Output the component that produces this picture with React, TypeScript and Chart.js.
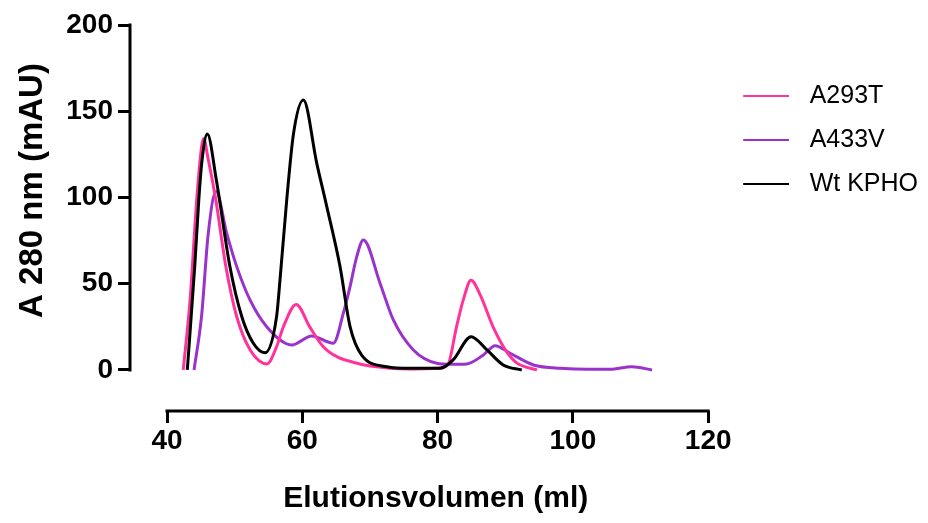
import React, { useEffect, useRef } from 'react';
import { Chart, registerables } from 'chart.js';

Chart.register(...registerables);

// ---- data ----
const seriesNames = ['A293T', 'A433V', 'Wt KPHO'];
const seriesColors = ['#FF3399', '#9933CC', '#000000'];
const seriesOrder = [1, 2, 0];

const a293tX = [42.4, 43.4, 44.4, 45.1, 45.4, 46.1, 47.2, 48.7, 50.3, 52.3, 54.8, 56.2, 57.2, 59.1, 61.1, 63.1, 65.1, 67.5, 70.0, 75.9, 80.0, 81.5, 82.8, 83.8, 84.95, 86.3, 88.2, 90.2, 91.7, 94.7];
const a293tY = [0, 40, 99, 129, 134, 122, 99, 60, 31, 11.6, 3.5, 13.5, 25, 38, 25, 13.5, 7.7, 4.5, 2.3, 0.6, 1.0, 2.9, 25, 40.6, 52, 43.5, 25, 10.6, 4.1, 0];

const a433vX = [44.0, 45.1, 46.1, 47.25, 48.83, 50.31, 52.27, 54.74, 58.44, 61.4, 64.59, 66.07, 67.06, 68.05, 69.03, 71.49, 73.46, 76.42, 79.88, 82.0, 84.32, 86.77, 88.5, 90.72, 94.17, 98.11, 105.5, 108.7, 111.7];
const a433vY = [0, 30.9, 79.2, 103.4, 79.2, 59.9, 40.6, 25.1, 14.5, 19.7, 15.5, 32.9, 48.3, 65.7, 75.4, 50.3, 29, 11.6, 3.9, 3.3, 3.5, 8.7, 14.1, 9.7, 2.9, 1, 0.4, 1.9, 0];

const wtX = [43.0, 44.1, 44.7, 45.13, 45.96, 47.3, 49.3, 51.05, 52.76, 54.5, 56.2, 56.7, 57.7, 58.7, 60.16, 62.14, 63.62, 65.58, 67.06, 68.8, 72.5, 75.9, 80.4, 82.3, 84.95, 87.3, 89.7, 92.45];
const wtY = [0, 60, 98.6, 119.8, 136.8, 110, 60, 31, 15.5, 10, 31, 52, 98.6, 137, 156.5, 119.8, 94.7, 59.9, 25.1, 8.5, 1.9, 1, 1, 5.8, 19.3, 11.6, 2.9, 0];

const seriesX = [a293tX, a433vX, wtX];
const seriesY = [a293tY, a433vY, wtY];

const xTicks = [40, 60, 80, 100, 120];
const yTicks = [0, 50, 100, 150, 200];

const xTitle = '    Elutionsvolumen (ml)';
const yTitle = '      A 280 nm (mAU)';

const FONT = '"Liberation Sans", Arial, sans-serif';

export default function App() {
  const ref = useRef<HTMLCanvasElement>(null);

  useEffect(() => {
    document.body.style.margin = '0';
    const canvas = ref.current;
    if (!canvas) return;

    const makeLegendLine = (color: string) => {
      const c = document.createElement('canvas');
      c.width = 54;
      c.height = 4;
      const g = c.getContext('2d')!;
      g.strokeStyle = color;
      g.lineWidth = 2;
      g.beginPath();
      g.moveTo(8, 2);
      g.lineTo(54, 2);
      g.stroke();
      return c;
    };
    const legendImages = seriesColors.map(makeLegendLine);

    const datasets = seriesNames.map((name, i) => ({
      label: name,
      data: seriesX[i].map((x, j) => ({ x, y: seriesY[i][j] })),
      borderColor: seriesColors[i],
      backgroundColor: seriesColors[i],
      borderWidth: 3,
      pointRadius: 0,
      cubicInterpolationMode: 'monotone' as const,
      fill: false,
      order: seriesOrder[i],
    }));

    const axisLines = {
      id: 'axisLines',
      beforeDatasetsDraw(chart: any) {
        const { ctx, chartArea, scales } = chart;
        const xs = scales.x;
        const ys = scales.y;
        ctx.save();
        ctx.strokeStyle = '#000';
        ctx.lineWidth = 3;
        ctx.lineCap = 'square';
        ctx.beginPath();
        ctx.moveTo(xs.getPixelForValue(xTicks[0]), chartArea.bottom);
        ctx.lineTo(xs.getPixelForValue(xTicks[xTicks.length - 1]), chartArea.bottom);
        ctx.moveTo(chartArea.left, ys.getPixelForValue(yTicks[0]));
        ctx.lineTo(chartArea.left, ys.getPixelForValue(yTicks[yTicks.length - 1]));
        ctx.stroke();
        ctx.restore();
      },
    };

    const chart = new Chart(canvas, {
      type: 'line',
      data: { datasets },
      plugins: [axisLines],
      options: {
        animation: false,
        responsive: false,
        events: [],
        layout: { padding: { top: 25, left: 0, right: 0, bottom: 0 } },
        scales: {
          x: {
            type: 'linear',
            min: 34.53,
            max: 120,
            afterBuildTicks: (s: any) => {
              s.ticks = xTicks.map((v) => ({ value: v }));
            },
            afterFit: (s: any) => {
              s.height = 112;
            },
            border: { display: false },
            grid: { drawOnChartArea: false, drawTicks: true, tickLength: 12, lineWidth: 3, color: '#000' },
            ticks: { color: '#000', font: { family: FONT, size: 28, weight: 'bold' }, padding: 1, maxRotation: 0, autoSkip: false },
            title: { display: true, text: xTitle, color: '#000', font: { family: FONT, size: 30, weight: 'bold' }, padding: { top: 0, bottom: 6 } },
          },
          y: {
            type: 'linear',
            min: -23.8,
            max: 200,
            afterBuildTicks: (s: any) => {
              s.ticks = yTicks.map((v) => ({ value: v }));
            },
            afterFit: (s: any) => {
              s.width = 130;
            },
            border: { display: false },
            grid: { drawOnChartArea: false, drawTicks: true, tickLength: 12, lineWidth: 3, color: '#000' },
            ticks: { color: '#000', font: { family: FONT, size: 28, weight: 'bold' }, padding: 5, autoSkip: false },
            title: { display: true, text: yTitle, color: '#000', font: { family: FONT, size: 33, weight: 'bold' }, padding: { top: 13, bottom: 0 } },
          },
        },
        plugins: {
          tooltip: { enabled: false },
          legend: {
            position: 'right',
            align: 'start',
            maxWidth: 220,
            title: { display: true, text: ' ', font: { size: 10 }, padding: { top: 27.5, bottom: 0 } },
            labels: {
              usePointStyle: true,
              pointStyleWidth: 70,
              padding: 19,
              color: '#000',
              font: { family: FONT, size: 25 },
              generateLabels: (ch: any) =>
                ch.data.datasets.map((ds: any, i: number) => ({
                  text: ds.label,
                  fillStyle: seriesColors[i],
                  strokeStyle: seriesColors[i],
                  fontColor: '#000',
                  lineWidth: 2,
                  pointStyle: legendImages[i],
                  hidden: false,
                  datasetIndex: i,
                })),
            },
          },
        },
      } as any,
    });

    return () => {
      chart.destroy();
    };
  }, []);

  return (
    <div style={{ width: 928, height: 523, position: 'relative', background: '#fff' }}>
      <canvas ref={ref} width={928} height={523} style={{ display: 'block' }} />
    </div>
  );
}
